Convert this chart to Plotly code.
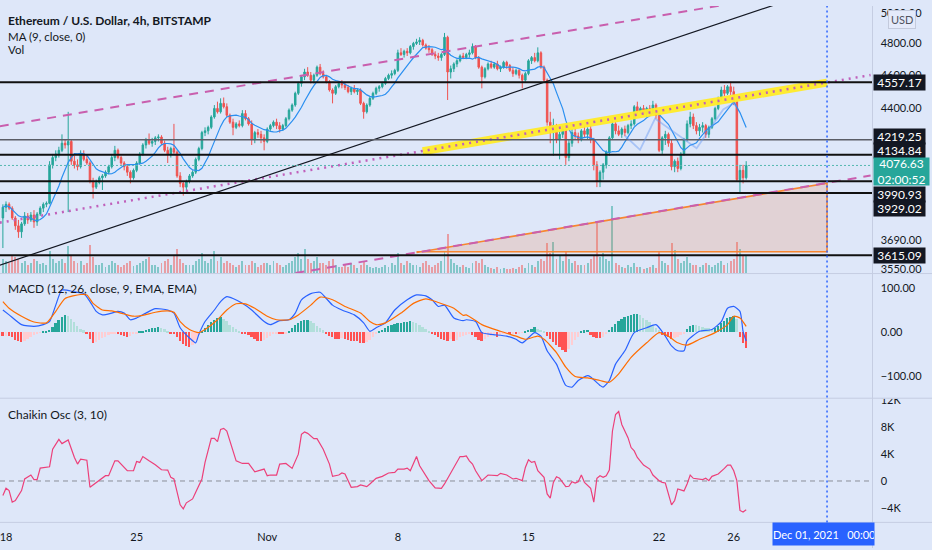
import math
import pandas as pd
import plotly.graph_objects as go

W, H = 932, 550

# ------------------------------------------------------------------ data
bar_start = "2021-10-17 20:00"   # first 4h bar
n_bars = 240

opens = [3800,
 3855,3870,3850,3800,3760,3730, 3770,3810,3790,3815,3780,3820, 3850,3870,3875,4080,4120,4140,
 4160,4200,4190,4210,4100,4080, 4070,4140,4110,4090,3990,3960, 3985,4010,4020,4040,4070,4120,
 4160,4120,4090,4070,4040,4010, 4050,4090,4140,4190,4220,4200, 4210,4230,4235,4200,4160,4140,
 4170,4150,4020,3980,3960,3990, 4020,4040,4110,4170,4260,4270, 4290,4350,4400,4380,4430,4410,
 4360,4320,4290,4310,4300,4370, 4340,4310,4220,4260,4250,4230, 4210,4280,4300,4320,4300,4280,
 4300,4340,4390,4420,4490,4550, 4590,4620,4600,4570,4600,4650, 4610,4590,4560,4510,4490,4530,
 4550,4540,4525,4500,4520,4500, 4510,4430,4380,4420,4460,4490, 4520,4530,4550,4580,4600,4610,
 4630,4740,4730,4750,4740,4780, 4800,4810,4820,4790,4770,4760, 4730,4720,4710,4730,4840,4620,
 4640,4670,4690,4720,4710,4730, 4740,4780,4710,4650,4590,4640, 4670,4650,4670,4640,4650,4680,
 4660,4630,4610,4630,4600,4570, 4610,4690,4710,4690,4740,4650, 4570,4320,4260,4300,4220,4250,
 4280,4120,4200,4260,4240,4220, 4270,4250,4280,4220,4080,3990, 4040,4080,4150,4230,4310,4270,
 4250,4280,4260,4300,4310,4410, 4380,4400,4370,4400,4380,4420, 4360,4160,4230,4250,4200,4070,
 4100,4060,4140,4220,4310,4350, 4300,4270,4290,4300,4250,4290, 4340,4400,4460,4510,4490,4530,
 4500,4440,4000,4050,4010]
highs = [3870,
 3885,3880,3860,3810,3790,3780, 3830,3825,3830,3840,3830,3860, 3880,3885,4100,4140,4160,4180,
 4250,4220,4380,4220,4130,4110, 4160,4160,4130,4100,4010,4000, 4020,4030,4050,4080,4140,4185,
 4170,4130,4100,4080,4050,4060, 4100,4150,4200,4230,4255,4230, 4240,4250,4245,4215,4180,4180,
 4310,4160,4040,3990,4000,4030, 4050,4120,4180,4270,4290,4300, 4360,4420,4440,4460,4465,4430,
 4370,4340,4320,4330,4390,4390, 4350,4330,4270,4280,4270,4250, 4290,4310,4330,4340,4320,4310,
 4350,4400,4430,4500,4560,4600, 4640,4650,4620,4610,4660,4670, 4630,4600,4570,4520,4540,4560,
 4570,4560,4540,4530,4540,4520, 4520,4440,4430,4470,4500,4530, 4540,4560,4590,4610,4630,4640,
 4760,4770,4760,4770,4790,4810, 4830,4840,4830,4800,4790,4770, 4750,4740,4740,4868,4850,4660,
 4680,4700,4730,4740,4740,4760, 4800,4790,4720,4660,4650,4680, 4690,4680,4690,4660,4690,4690,
 4670,4650,4640,4640,4610,4620, 4700,4720,4740,4775,4750,4660, 4580,4380,4340,4310,4270,4300,
 4290,4220,4280,4290,4260,4280, 4300,4290,4300,4230,4100,4050, 4090,4160,4240,4330,4320,4300,
 4290,4300,4310,4330,4420,4440, 4410,4420,4410,4420,4445,4430, 4370,4240,4270,4260,4220,4110,
 4120,4150,4230,4330,4380,4370, 4320,4310,4320,4310,4300,4350, 4410,4470,4530,4540,4540,4560,
 4530,4450,4080,4080,4100]
lows = [3650,
 3830,3840,3790,3740,3700,3700, 3760,3770,3780,3750,3760,3810, 3830,3855,3870,4060,4100,4120,
 4150,4170,3830,4080,4060,4050, 4060,4100,4080,3980,3900,3950, 3975,3945,4010,4030,4060,4100,
 4110,4080,4050,4020,3980,4000, 4040,4080,4130,4170,4190,4180, 4190,4210,4190,4150,4090,4120,
 4140,4010,3960,3915,3930,3980, 4010,4030,4100,4160,4240,4250, 4280,4340,4370,4370,4400,4350,
 4310,4245,4280,4290,4290,4330, 4300,4190,4200,4230,4200,4160, 4200,4270,4290,4280,4260,4270,
 4290,4330,4380,4410,4480,4530, 4570,4590,4550,4550,4590,4600, 4580,4550,4500,4430,4480,4520,
 4520,4510,4490,4480,4490,4480, 4420,4340,4370,4410,4450,4480, 4500,4520,4540,4570,4580,4600,
 4620,4720,4710,4720,4730,4760, 4790,4790,4780,4760,4740,4720, 4700,4690,4690,4720,4450,4580,
 4620,4650,4680,4700,4700,4710, 4730,4700,4640,4520,4580,4630, 4640,4640,4630,4620,4640,4640,
 4620,4590,4600,4580,4520,4560, 4600,4670,4680,4680,4640,4560, 4300,4200,4130,4200,4110,4230,
 4080,4100,4180,4220,4200,4210, 4230,4220,4200,4050,3960,3960, 4000,4060,4130,4220,4250,4240,
 4230,4240,4250,4280,4300,4370, 4370,4360,4350,4360,4370,4340, 4150,4140,4190,4180,4050,4040,
 4040,4050,4130,4210,4290,4280, 4250,4240,4260,4230,4230,4280, 4330,4390,4450,4470,4480,4480,
 4420,3990,3930,3980,4000]
closes = [3855,
 3870,3850,3800,3760,3730,3770, 3810,3790,3815,3780,3820,3850, 3870,3875,4080,4120,4140,4160,
 4200,4190,4210,4100,4080,4070, 4140,4110,4090,3990,3960,3985, 4010,4020,4040,4070,4120,4160,
 4120,4090,4070,4040,4010,4050, 4090,4140,4190,4220,4200,4210, 4230,4235,4200,4160,4140,4170,
 4150,4020,3980,3960,3990,4020, 4040,4110,4170,4260,4270,4290, 4350,4400,4380,4430,4410,4360,
 4320,4290,4310,4300,4370,4340, 4310,4220,4260,4250,4230,4210, 4280,4300,4320,4300,4280,4300,
 4340,4390,4420,4490,4550,4590, 4620,4600,4570,4600,4650,4610, 4590,4560,4510,4490,4530,4550,
 4540,4525,4500,4520,4500,4510, 4430,4380,4420,4460,4490,4520, 4530,4550,4580,4600,4610,4630,
 4740,4730,4750,4740,4780,4800, 4810,4820,4790,4770,4760,4730, 4720,4710,4730,4840,4620,4640,
 4670,4690,4720,4710,4730,4740, 4780,4710,4650,4590,4640,4670, 4650,4670,4640,4650,4680,4660,
 4630,4610,4630,4600,4570,4610, 4690,4710,4690,4740,4650,4570, 4320,4260,4300,4220,4250,4280,
 4120,4200,4260,4240,4220,4270, 4250,4280,4220,4080,3990,4040, 4080,4150,4230,4310,4270,4250,
 4280,4260,4300,4310,4410,4380, 4400,4370,4400,4380,4420,4360, 4160,4230,4250,4200,4070,4100,
 4060,4140,4220,4310,4350,4300, 4270,4290,4300,4250,4290,4340, 4400,4460,4510,4490,4530,4500,
 4440,4000,4050,4010,4076.63]
volumes = [1400,
 1200,1000,1800,1600,1400,1000, 1200,800,1000,1400,1200,900, 1000,800,2200,1400,1000,1200,
 1400,1000,2700,1800,1200,1000, 1200,800,1000,2800,1600,800, 800,1000,600,800,1200,1000,
 800,600,800,1000,1200,700, 800,1000,1200,1400,1600,800, 800,600,1000,1200,1400,800,
 1800,2400,1400,1000,800,800, 800,1200,1400,2000,1200,1000, 1400,2200,1200,1600,1000,1200,
 1000,800,600,800,1200,800, 800,1200,1000,600,800,1000, 1000,800,1200,1000,800,600,
 800,1000,1200,1600,2000,1400, 2400,1400,1000,1200,1600,1000, 1000,800,1200,1400,800,600,
 600,800,600,1000,800,500, 800,1200,800,600,500,600, 500,600,800,600,1000,800,
 2000,1000,800,1200,1000,800, 800,600,1000,1200,800,600, 800,1000,1200,2200,4000,1400,
 1000,800,600,800,600,500, 1000,1200,1000,1400,800,600, 500,400,600,400,500,400,
 400,500,400,600,800,500, 1000,800,600,1200,1400,1200, 3000,2000,3200,1400,1800,1200,
 2200,1400,1000,1200,800,800, 800,1000,1400,1800,5100,1600, 2000,1400,1200,6800,1000,800,
 600,500,800,600,1000,600, 600,400,500,600,800,500, 2200,1200,1000,800,3000,2300,
 1400,1000,1200,1600,1000,800, 800,600,800,1000,800,600, 800,1000,1200,800,1000,1200,
 1400,3200,2400,1800,1700]

macd_hist = [
 -9,-8,-8,-12,-17,-21,-23,-20,-15,-10, -6,-3,-1,1,2,5,12,20,28,35,
 39,36,30,22,14,8,4,-5,-15,-24, -22,-18,-14,-10,-6,-3,-2,-4,-6,-9,
 -10,-9,-5,-2,1,3,5,7,9,10, 11,9,6,3,-2,-5,-12,-20,-27,-32,
 -33,-28,-18,-6,2,10,17,23,28,32, 34,30,24,17,11,6,3,-2,-3,-6,
 -11,-16,-20,-21,-18,-14,-9,-5,-3,-4, -5,-2,3,9,15,20,24,27,28,25,
 20,14,9,4,-3,-8,-12,-15,-16,-14, -16,-18,-19,-20,-21,-24,-25,-22,-17,-11,
 -5,2,5,9,13,16,18,20,21,22, 23,24,23,20,16,11,7,3,-3,-7,
 -12,-16,-18,-20,-16,-20,-18,-12,-8,-6, -4,-7,-12,-18,-20,-15,-10,-8,-6,-12,
 -6,-5,-4,-4,-3,-3,-2,-1,2,5, 8,11,8,5,2,-8,-15,-22,-28,-34,
 -40,-44,-38,-28,-18,-10,2,4,5,-6, -10,-13,-14,-10,-4,5,12,19,25,30,
 34,37,39,40,41,38,33,28,22,16, 10,4,-6,-8,-12,-16,-14,-11,-7,-3,
 8,14,17,15,13,11,10,9,8,10, 14,20,26,31,35,36,30,-12,-25,-36]

macd_idx = [0,2,6,10,13,15,17,19,23,26, 28,30,32,35,37,39,41,43,46,49,
 53,55,57,60,62,63,65,68,70,72, 74,77,80,84,86,89,92,94,96,99,
 102,104,106,109,113,116,118,120,123,126, 130,133,136,138,140,142,145,148,149,152,
 154,157,162,165,167,171,173,175,178,181, 183,185,188,189,192,193,195,197,200,203,
 207,210,213,215,217,219,220,224,228,231, 233,235,237,238,239]
macd_val = [50,39,17,13,17,24,61,95,91,87, 69,47,39,43,47,43,28,32,43,53,
 50,43,10,-13,-24,-5,24,50,69,80, 76,65,50,24,17,26,28,43,73,87,
 90,76,61,50,39,21,2,10,21,50, 73,84,82,73,58,61,32,26,28,24,
 -1,-5,-9,-16,-24,-1,-9,-42,-72,-120, -124,-109,-98,-101,-120,-124,-109,-72,-42,-1,
 10,17,-9,-31,-42,-42,-20,2,6,24, 54,58,47,2,-20]

signal_idx = [0,2,6,10,14,17,20,25,27,29, 32,35,39,42,45,49,53,55,57,60,
 63,65,69,72,75,78,81,85,88,92, 95,99,102,106,110,115,118,120,123,128,
 132,136,140,145,148,149,154,160,165,168, 172,174,178,181,184,188,192,195,198,202,
 207,211,214,217,220,224,229,233,235,237, 239]
signal_val = [69,54,36,23,21,47,76,85,84,65, 50,48,41,36,38,45,48,45,24,6,
 -1,6,28,50,64,64,54,36,28,28, 39,61,79,73,58,43,24,17,21,43,
 65,75,67,54,38,39,17,2,-9,-16, -9,-16,-46,-79,-100,-103,-109,-113,-94,-57,
 -24,-1,-9,-24,-29,-16,-1,17,36,32, 13]

chaikin_idx = [0,1,2,3,4,6,7,9,10,11, 12,15,16,18,19,21,23,24,25,27,
 28,30,31,33,34,36,37,38,40,42, 43,44,45,47,49,51,53,54,55,57,
 58,59,61,62,63,64,65,67,68,69, 70,71,72,73,74,75,77,79,81,83,
 84,85,86,88,89,91,93,95,96,97, 98,100,101,103,105,106,108,109,110,112,
 114,115,117,118,120,122,124,126,127,129, 130,131,133,134,136,137,139,141,142,145,
 146,147,148,149,150,151,152,154,156,157, 159,160,162,164,165,167,168,169,170,171,
 172,174,175,176,177,178,179,181,182,183, 184,185,186,187,189,190,191,192,193,194,
 195,196,197,198,199,201,202,203,204,206, 208,209,211,212,213,215,216,217,218,219,
 220,221,222,224,225,226,227,228,230,232, 233,234,235,236,237,238,239]
chaikin_k = [-2.17,-1.09,-1.43,-3.16,-2.91,-1.43,0.30,0.89,0.20,0.20,
 1.93,2.12,4.74,6.22,5.58,6.12,3.51,2.52,3.26,3.11,
 -0.94,-0.20,0.15,0.79,0.79,3.01,3.01,2.52,1.53,1.53,
 2.91,2.77,3.65,3.01,2.42,1.68,1.63,0.54,0.30,-3.56,
 -4.15,-3.26,-2.67,-1.68,-0.69,0.30,2.77,6.37,6.37,5.88,
 7.70,7.85,7.46,5.98,4.25,3.01,2.62,2.62,1.38,1.63,
 1.78,0.79,0.89,0.89,2.52,2.62,1.88,4.00,6.96,7.31,
 7.11,6.32,6.32,4.74,2.52,0.69,0.89,1.19,1.04,-0.94,
 -0.84,-0.59,-0.84,-0.44,0.40,0.69,1.19,1.28,1.78,1.78,
 1.93,1.53,3.65,2.27,0.79,0.05,-1.04,-1.09,-0.44,2.02,
 3.01,3.65,3.65,3.75,3.01,2.52,1.53,0.05,0.89,0.89,
 0.79,1.14,0.89,0.30,0.40,0.05,2.02,3.16,2.77,2.91,
 1.53,0.54,-1.93,-2.57,-0.20,0.64,0.40,-0.84,-0.79,-0.10,
 -0.30,-0.10,0.89,-0.20,-1.09,-3.16,0.40,0.79,0.54,0.79,
 1.63,7.46,9.93,10.37,8.44,6.47,4.99,4.49,3.51,2.37,
 1.78,0.89,0.05,-0.20,-0.30,-3.56,-2.91,-1.19,-1.28,-1.48,
 -0.44,0.89,0.40,0.20,0.20,0.40,0.05,0.69,1.04,1.88,
 2.37,2.37,1.53,0.05,-4.40,-4.64,-4.30]

levels = [4557.17, 4219.25, 4134.84, 3990.93, 3929.02, 3615.09]
last_price = 4076.63
countdown = "02:00:52"

# drawings: (time, price) anchor points
black_t = ["2021-10-17 16:00", "2021-11-29 12:00"]; black_p = [3567, 5110]
upper_t = ["2021-10-17 16:00", "2021-11-27 08:00"]; upper_p = [4296, 5094]
mid_t = ["2021-10-17 16:00", "2021-12-03 08:00"]; mid_p = [3776, 4601]
lower_t = ["2021-11-01 16:00", "2021-12-03 08:00"]; lower_p = [3517, 4022]
hl_t = ["2021-11-09 08:00", "2021-12-01 00:00"]; hl_p = [4155, 4555]
zone_t = ["2021-11-09 00:00", "2021-12-01 00:00", "2021-12-01 00:00", "2021-11-09 00:00"]
zone_p = [3628, 3981, 3632, 3632]
path_t = ["2021-11-20 04:00", "2021-11-20 23:30", "2021-11-21 18:45", "2021-11-24 00:15",
          "2021-11-25 10:30", "2021-11-25 23:30", "2021-11-26 03:50"]
path_p = [4242, 4163, 4341, 4172, 4394, 4429, 4410]
marker_time = "2021-12-01 00:00"

price_ticks = [5000, 4800, 4600, 4400, 3690, 3550]
macd_ticks = [100, 0, -100]
macd_ticktext = ["100.00", "0.00", "\u2212100.00"]
chaikin_ticks = [12, 8, 4, 0, -4]
chaikin_ticktext = ["12K", "8K", "4K", "0", "\u22124K"]
date_ticks = ["2021-10-18", "2021-10-25", "2021-11-01", "2021-11-08", "2021-11-15",
              "2021-11-22", "2021-11-26"]
date_ticktext = ["18", "25", "Nov", "8", "15", "22", "26"]

# ------------------------------------------------------------------ styling
BG = "#dee7f9"
UP, DN = "#26a69a", "#ef5350"
INK = "#131722"
FONT = "Lato, 'Open Sans', sans-serif"
X_RANGE = ["2021-10-17 16:17", "2021-12-03 10:28"]
PR = 872.5  # right edge of panes in px


def pxx(x):
    return x / W


def pxy(y):
    return 1 - y / H


t = pd.date_range(bar_start, periods=n_bars, freq="4h")
bar_ms = 4 * 3600 * 1000
ma9 = pd.Series(closes).rolling(9, min_periods=1).mean()

fig = go.Figure()

# volume (base axis of the price pane)
vol_colors = ["rgba(38,166,154,0.5)" if c >= o else "rgba(239,83,80,0.5)" for o, c in zip(opens, closes)]
fig.add_trace(go.Bar(x=t, y=volumes, marker=dict(color=vol_colors, line=dict(width=0)),
                     width=bar_ms * 0.62, xaxis="x", yaxis="y", hoverinfo="skip"))

# zone
fig.add_trace(go.Scatter(x=zone_t, y=zone_p, fill="toself", fillcolor="rgba(240,120,60,0.19)",
                         mode="lines", line=dict(color="#f7862f", width=1.6), xaxis="x", yaxis="y2",
                         hoverinfo="skip"))

fig.add_trace(go.Candlestick(x=t, open=opens, high=highs, low=lows, close=closes,
                             increasing=dict(line=dict(color=UP, width=1), fillcolor=UP),
                             decreasing=dict(line=dict(color=DN, width=1), fillcolor=DN),
                             whiskerwidth=0, xaxis="x", yaxis="y2", hoverinfo="skip"))
fig.add_trace(go.Scatter(x=t, y=ma9, mode="lines", line=dict(color="#2a8ff0", width=1.2),
                         xaxis="x", yaxis="y2", hoverinfo="skip"))

# drawings
fig.add_trace(go.Scatter(x=hl_t, y=hl_p, mode="lines", line=dict(color="rgba(255,235,40,0.95)", width=8),
                         xaxis="x", yaxis="y2", hoverinfo="skip"))
fig.add_trace(go.Scatter(x=upper_t, y=upper_p, mode="lines",
                         line=dict(color="#c95fae", width=2, dash="9px,7px"), xaxis="x", yaxis="y2"))
fig.add_trace(go.Scatter(x=lower_t, y=lower_p, mode="lines",
                         line=dict(color="#c95fae", width=2, dash="9px,7px"), xaxis="x", yaxis="y2"))
fig.add_trace(go.Scatter(x=mid_t, y=mid_p, mode="lines",
                         line=dict(color="#c060bb", width=2.5, dash="2px,5px"), xaxis="x", yaxis="y2"))
fig.add_trace(go.Scatter(x=black_t, y=black_p, mode="lines", line=dict(color=INK, width=1.2),
                         xaxis="x", yaxis="y2"))
for lv in levels:
    is_grey = lv == 4219.25
    fig.add_trace(go.Scatter(x=X_RANGE, y=[lv, lv], mode="lines",
                             line=dict(color="#5a5d66" if is_grey else "#111111", width=1.5 if is_grey else 2),
                             xaxis="x", yaxis="y2", hoverinfo="skip"))
fig.add_trace(go.Scatter(x=X_RANGE, y=[last_price, last_price], mode="lines",
                         line=dict(color="#55b8b0", width=1, dash="2px,2px"), xaxis="x", yaxis="y2"))
fig.add_trace(go.Scatter(x=path_t, y=path_p, mode="lines", line=dict(color="rgba(100,150,245,0.45)", width=1.8),
                         xaxis="x", yaxis="y2", hoverinfo="skip"))

# MACD pane
hist_colors = []
prev = 0
for hv in macd_hist:
    if hv >= 0:
        hist_colors.append("#26a69a" if hv >= prev else "#b2dfdb")
    else:
        hist_colors.append("#ffcdd2" if hv > prev else "#ff5252")
    prev = hv
fig.add_trace(go.Bar(x=t, y=macd_hist, marker=dict(color=hist_colors, line=dict(width=0)),
                     width=bar_ms * 0.6, xaxis="x2", yaxis="y3", hoverinfo="skip"))
fig.add_trace(go.Scatter(x=[t[i] for i in macd_idx], y=macd_val, mode="lines",
                         line=dict(color="#2962ff", width=1.2, shape="spline", smoothing=0.6), xaxis="x2", yaxis="y3"))
fig.add_trace(go.Scatter(x=[t[i] for i in signal_idx], y=signal_val, mode="lines",
                         line=dict(color="#ff6d00", width=1.2, shape="spline", smoothing=0.6), xaxis="x2", yaxis="y3"))

# Chaikin pane
fig.add_trace(go.Scatter(x=X_RANGE, y=[0, 0], mode="lines", line=dict(color="#8b8f99", width=1, dash="5px,4px"),
                         xaxis="x3", yaxis="y4"))
fig.add_trace(go.Scatter(x=[t[i] for i in chaikin_idx], y=chaikin_k, mode="lines",
                         line=dict(color="#ec407a", width=1.2), xaxis="x3", yaxis="y4"))

# ------------------------------------------------------------------ axes
xdom = [0, PR / W]
tickfont = dict(family=FONT, size=11, color=INK)
common_x = dict(domain=xdom, range=X_RANGE, type="date", showgrid=False, zeroline=False,
                showline=False, fixedrange=True)
fig.update_layout(
    width=W, height=H, margin=dict(l=0, r=0, t=0, b=0), autosize=False,
    paper_bgcolor=BG, plot_bgcolor=BG, showlegend=False, bargap=0,
    xaxis=dict(**common_x, anchor="y", showticklabels=False, rangeslider=dict(visible=False)),
    xaxis2=dict(**common_x, anchor="y3", matches="x", showticklabels=False),
    xaxis3=dict(**common_x, anchor="y4", matches="x", showticklabels=True, tickmode="array",
                tickvals=date_ticks, ticktext=date_ticktext, ticks="outside", ticklen=4,
                tickcolor="rgba(0,0,0,0)", tickfont=tickfont, ticklabeloverflow="allow"),
    yaxis=dict(domain=[pxy(271), 1], range=[0, 27100], visible=False, fixedrange=True),
    yaxis2=dict(overlaying="y", type="log", range=[math.log10(3529.7), math.log10(5046.8)],
                side="right", anchor="x", showgrid=False, zeroline=False, showline=False,
                tickmode="array", tickvals=price_ticks, ticktext=[f"{v:.2f}" for v in price_ticks],
                ticks="outside", ticklen=5, tickcolor="rgba(0,0,0,0)", tickfont=tickfont,
                ticklabeloverflow="allow"),
    yaxis3=dict(domain=[pxy(397.5), pxy(272)], anchor="x2", range=[-147.8, 131.1], side="right",
                showgrid=False, zeroline=False, showline=False, tickmode="array",
                tickvals=macd_ticks, ticktext=macd_ticktext, ticks="outside", ticklen=5,
                tickcolor="rgba(0,0,0,0)", tickfont=tickfont),
    yaxis4=dict(domain=[pxy(524), pxy(399)], anchor="x3", range=[-6.176, 12.206], side="right",
                showgrid=False, zeroline=False, showline=False, tickmode="array",
                tickvals=chaikin_ticks, ticktext=chaikin_ticktext, ticks="outside", ticklen=5,
                tickcolor="rgba(0,0,0,0)", tickfont=tickfont, ticklabeloverflow="allow"),
)

# ------------------------------------------------------------------ shapes
sep = "#c5cde2"
shapes = [
    # mask that clips the top of the "12K" label like the reference
    dict(type="rect", xref="paper", yref="paper", x0=pxx(PR + 1), x1=1, y0=pxy(398.5), y1=pxy(392),
         fillcolor=BG, line=dict(width=0), layer="above"),
    dict(type="line", xref="paper", yref="paper", x0=0, x1=1, y0=pxy(271.5), y1=pxy(271.5), line=dict(color=sep, width=1)),
    dict(type="line", xref="paper", yref="paper", x0=0, x1=1, y0=pxy(398), y1=pxy(398), line=dict(color=sep, width=1), layer="above"),
    dict(type="line", xref="paper", yref="paper", x0=0, x1=1, y0=pxy(524), y1=pxy(524), line=dict(color=sep, width=1)),
    dict(type="line", xref="paper", yref="paper", x0=pxx(PR), x1=pxx(PR), y0=0, y1=1, line=dict(color=sep, width=1)),
    dict(type="line", xref="x", yref="paper", x0=marker_time, x1=marker_time, y0=pxy(524), y1=1,
         line=dict(color="#2962ff", width=1.5, dash="2px,3px")),
]
fig.update_layout(shapes=shapes)

# ------------------------------------------------------------------ annotations
ann = []


def text_at(txt, x, y, size=12, bold=False):
    ann.append(dict(xref="paper", yref="paper", x=pxx(x), y=pxy(y), xanchor="left", yanchor="middle",
                    text=f"<b>{txt}</b>" if bold else txt, showarrow=False,
                    font=dict(family=FONT, size=size, color=INK)))


text_at("Ethereum / U.S. Dollar, 4h, BITSTAMP", 6, 15, 12, True)
text_at("MA (9, close, 0)", 6, 30.5, 11.5)
text_at("Vol", 6, 44.5, 11.5)
text_at("MACD (12, 26, close, 9, EMA, EMA)", 6, 286.5)
text_at("Chaikin Osc (3, 10)", 6, 415)


def price_box(txt, price, yshift, bg, w=51, h=15):
    ann.append(dict(xref="paper", yref="y2", x=pxx(PR), y=math.log10(price), xanchor="left",
                    yanchor="middle", yshift=yshift, text=txt, showarrow=False, bgcolor=bg,
                    width=w, height=h, borderpad=0, align="center",
                    font=dict(family=FONT, size=12, color="white")))


shifts = {4557.17: 0, 4219.25: 3.5, 4134.84: 4.5, 3990.93: -13, 3929.02: -15.5, 3615.09: 0}
for lv in levels:
    price_box(f"{lv:.2f}", lv, shifts[lv], INK)
price_box(f"{last_price:.2f}<br>{countdown}", last_price, -6.5, "#26a69a", w=55, h=27)

ann.append(dict(xref="paper", yref="paper", x=pxx(902), y=pxy(14), xanchor="center", yanchor="middle",
                text="USD", showarrow=False, bgcolor="#e4eafa", bordercolor="#c3cadc", borderwidth=1,
                borderpad=2, font=dict(family=FONT, size=11, color="#50535e")))
ann.append(dict(xref="paper", yref="paper", x=pxx(772), y=pxy(536), xanchor="left", yanchor="middle",
                text="Dec 01, 2021\u00a0\u00a0\u00a000:00", showarrow=False, bgcolor="#2962ff",
                width=101, height=22, align="left", borderpad=0,
                font=dict(family=FONT, size=11, color="white")))
fig.update_layout(annotations=ann)

fig.write_html("out.html")
